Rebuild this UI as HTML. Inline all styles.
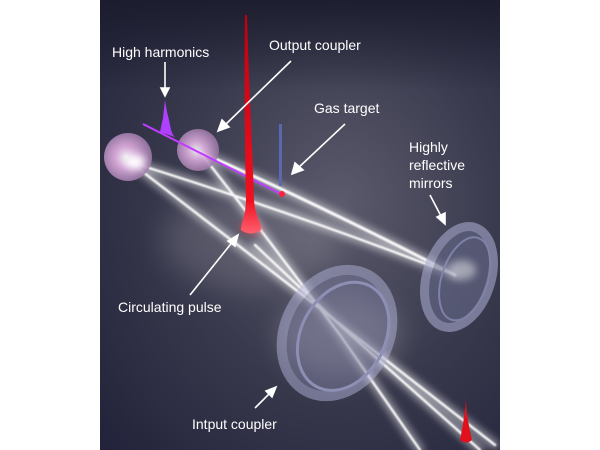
<!DOCTYPE html>
<html><head><meta charset="utf-8"><style>
html,body{margin:0;padding:0;background:#fff;width:600px;height:450px;overflow:hidden}
svg{display:block}
text{font-family:"Liberation Sans",sans-serif;fill:#fff;font-size:14px}
</style></head><body>
<svg width="600" height="450" viewBox="0 0 600 450">
<defs>
<radialGradient id="bg" cx="0.6" cy="0.45" r="0.8">
<stop offset="0" stop-color="#5b5a6c"/><stop offset="0.5" stop-color="#3a3a4e"/><stop offset="1" stop-color="#22233a"/>
</radialGradient>
<linearGradient id="top" x1="0" y1="0" x2="0" y2="1">
<stop offset="0" stop-color="#1a1b2c" stop-opacity="0.9"/><stop offset="1" stop-color="#1a1b2c" stop-opacity="0"/>
</linearGradient>
<radialGradient id="sph" cx="0.45" cy="0.5" r="0.6">
<stop offset="0" stop-color="#fff"/><stop offset="0.35" stop-color="#e6b4e6"/><stop offset="1" stop-color="#8a6a98"/>
</radialGradient>
<linearGradient id="red" x1="0" y1="0" x2="0" y2="1">
<stop offset="0" stop-color="#c00010"/><stop offset="0.85" stop-color="#f01020"/><stop offset="1" stop-color="#ff6070"/>
</linearGradient>
<filter id="glow" x="-50%" y="-50%" width="200%" height="200%"><feGaussianBlur stdDeviation="4"/></filter>
<filter id="big" x="-50%" y="-50%" width="200%" height="200%"><feGaussianBlur stdDeviation="14"/></filter>
<filter id="sm" x="-50%" y="-50%" width="200%" height="200%"><feGaussianBlur stdDeviation="0.8"/></filter>
</defs>
<rect x="100" y="0" width="400" height="450" fill="url(#bg)"/>
<rect x="100" y="0" width="400" height="90" fill="url(#top)"/>
<ellipse cx="250" cy="240" rx="90" ry="50" fill="#fff" opacity="0.12" filter="url(#big)"/>
<ellipse cx="340" cy="335" rx="60" ry="40" fill="#fff" opacity="0.2" filter="url(#big)"/>
<g stroke="#fff" fill="none" stroke-linecap="round" opacity="0.5" filter="url(#glow)" stroke-width="8">
<path d="M130,162 Q300,215 455,275"/>
<path d="M130,162 L300,293 L495,445"/>
<path d="M200,152 L263,233 L340,335 L420,450"/>
<path d="M200,152 Q320,205 455,275"/>
<path d="M255,245 L345,330 L480,450"/>
</g>
<g stroke="#fff" fill="none" stroke-linecap="round" opacity="0.95" stroke-width="2.4" filter="url(#sm)">
<path d="M130,162 Q300,215 455,275"/>
<path d="M130,162 L300,293 L495,445"/>
<path d="M200,152 L263,233 L340,335 L420,450"/>
<path d="M200,152 Q320,205 455,275" stroke-width="3"/>
<path d="M255,245 L345,330 L480,450"/>
</g>
<g transform="rotate(28 337 333)">
<ellipse cx="337" cy="333" rx="52" ry="66" fill="#7a7a9c" opacity="0.5" stroke="#b0b2d6" stroke-width="10"/>
<ellipse cx="344" cy="333" rx="42" ry="57" fill="none" stroke="#8d8fb4" stroke-width="3"/>
</g>
<g transform="rotate(18 459 277)">
<ellipse cx="459" cy="277" rx="32" ry="52" fill="#666a8a" opacity="0.6" stroke="#a5a8cc" stroke-width="9"/>
<ellipse cx="465" cy="277" rx="23" ry="43" fill="none" stroke="#7f82a6" stroke-width="2"/>
</g>
<ellipse cx="462" cy="270" rx="14" ry="10" fill="#fff" opacity="0.45" filter="url(#glow)"/>
<circle cx="128" cy="157" r="24" fill="url(#sph)" opacity="0.9"/>
<circle cx="198" cy="150" r="21" fill="url(#sph)" opacity="0.85"/>
<ellipse cx="135" cy="162" rx="10" ry="7" fill="#fff" filter="url(#glow)"/>
<line x1="143" y1="124" x2="283" y2="195" stroke="#c03cff" stroke-width="2"/>
<path d="M160,132 L163,118 L165,100 L167,112 L169,120 L171,130 L173,135 L175,137 Z" fill="#b040ff"/>
<rect x="279" y="124" width="3" height="62" fill="#5a68b0"/>
<circle cx="282" cy="194" r="3" fill="#ff2040"/>
<ellipse cx="251" cy="228" rx="11" ry="6" fill="#ff4050" opacity="0.5" filter="url(#glow)"/>
<path d="M245,15 L247,15 C249,90 253,160 254,200 C255,215 261,222 261,230 Q251,237 241,230 C241,222 246,215 246,200 C245,150 244,80 245,15 Z" fill="url(#red)"/>
<path d="M466,398 C466,415 470,430 472,440 Q466,445 460,440 C462,430 465,415 466,398 Z" fill="#e0101c"/>
<g stroke="#fff" stroke-width="1.6" fill="#fff">
<line x1="165" y1="62" x2="165" y2="90"/><path d="M161,88 L165,96 L169,88 Z"/>
<line x1="291" y1="61" x2="224" y2="126"/><path d="M222,120 L218,131 L229,127 Z"/>
<line x1="345" y1="124" x2="297" y2="169"/><path d="M295,163 L292,174 L303,170 Z"/>
<line x1="430" y1="195" x2="442" y2="218"/><path d="M437,217 L445,224 L445,213 Z"/>
<line x1="190" y1="295" x2="234" y2="240"/><path d="M228,241 L238,235 L235,246 Z"/>
<line x1="255" y1="408" x2="272" y2="391"/><path d="M266,391 L276,387 L272,397 Z"/>
</g>
<text x="112" y="57">High harmonics</text>
<text x="269" y="50">Output coupler</text>
<text x="314" y="113">Gas target</text>
<text x="409" y="152">Highly</text>
<text x="409" y="170">reflective</text>
<text x="409" y="188">mirrors</text>
<text x="118" y="312">Circulating pulse</text>
<text x="192" y="429">Intput coupler</text>
</svg>
</body></html>
